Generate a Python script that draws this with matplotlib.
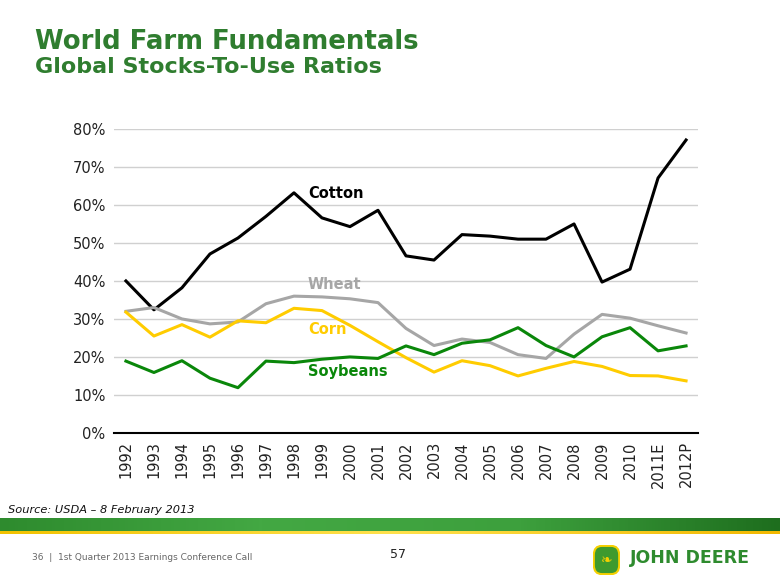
import numpy as np
import matplotlib
matplotlib.use("Agg")
import matplotlib.pyplot as plt
from matplotlib.patches import FancyBboxPatch

years = ["1992", "1993", "1994", "1995", "1996", "1997", "1998", "1999", "2000", "2001",
         "2002", "2003", "2004", "2005", "2006", "2007", "2008", "2009", "2010", "2011E", "2012P"]
cotton = [40.0, 32.4, 38.2, 47.1, 51.3, 57.0, 63.2, 56.6, 54.3, 58.6, 46.6, 45.5,
          52.2, 51.8, 51.0, 51.0, 55.0, 39.7, 43.1, 67.1, 77.1]
wheat = [32.0, 33.0, 30.0, 28.7, 29.2, 34.0, 36.0, 35.8, 35.3, 34.3, 27.5, 23.0,
         24.7, 23.8, 20.6, 19.6, 26.0, 31.2, 30.2, 28.2, 26.3]
corn = [31.8, 25.5, 28.5, 25.2, 29.5, 29.0, 32.8, 32.2, 28.3, 24.0, 19.8, 16.0,
        19.0, 17.7, 15.0, 17.0, 18.8, 17.5, 15.1, 15.0, 13.7]
soybeans = [18.9, 15.9, 19.0, 14.4, 11.9, 18.9, 18.5, 19.4, 20.0, 19.6, 22.9, 20.6,
            23.6, 24.5, 27.7, 23.0, 20.0, 25.3, 27.7, 21.6, 22.9]

green_title = "#2F7D2F"

fig = plt.figure(figsize=(7.8, 5.85), dpi=100)
ax = fig.add_axes([0.146, 0.26, 0.749, 0.5195])

x = np.arange(len(years))
ax.plot(x, cotton, color="black", lw=2.2)
ax.plot(x, wheat, color="#A6A6A6", lw=2.2)
ax.plot(x, corn, color="#FFCC00", lw=2.2)
ax.plot(x, soybeans, color="#0A870A", lw=2.2)

ax.set_ylim(0, 80)
ax.set_xlim(-0.43, 20.43)
ax.set_yticks(range(0, 81, 10))
ax.set_yticklabels([f"{v}%" for v in range(0, 81, 10)])
ax.set_xticks(x)
ax.set_xticklabels(years, rotation=90)
ax.tick_params(axis="both", length=0, labelsize=10.5, colors="#222222", pad=6)
ax.grid(axis="y", color="#D0D0D0", lw=1)
ax.set_axisbelow(True)
for s in ["top", "right", "left"]:
    ax.spines[s].set_visible(False)
ax.spines["bottom"].set_color("black")
ax.spines["bottom"].set_linewidth(1.5)

lab = dict(fontsize=10.5, fontweight="bold", ha="left", va="center")
ax.text(6.5, 63.0, "Cotton", color="black", **lab)
ax.text(6.5, 39.0, "Wheat", color="#A6A6A6", **lab)
ax.text(6.5, 27.2, "Corn", color="#FFCC00", **lab)
ax.text(6.5, 16.2, "Soybeans", color="#0A870A", **lab)

fig.text(35 / 780, 1 - 42 / 585, "World Farm Fundamentals", color=green_title,
         fontsize=18.7, fontweight="bold", ha="left", va="center")
fig.text(35 / 780, 1 - 67 / 585, "Global Stocks-To-Use Ratios", color=green_title,
         fontsize=16, fontweight="bold", ha="left", va="center")

fig.text(8 / 780, 1 - 510 / 585, "Source: USDA \u2013 8 February 2013", fontsize=8.2,
         style="italic", ha="left", va="center", color="#111111")

# green band with yellow underline
band = fig.add_axes([0, 1 - 531 / 585, 1, 13 / 585])
grad = np.linspace(0, 1, 256)[None, :]
cmap = matplotlib.colors.LinearSegmentedColormap.from_list(
    "g", ["#2E8B2E", "#43A843", "#3DA03D", "#1E6E1E"])
band.imshow(grad, aspect="auto", cmap=cmap, extent=[0, 1, 0, 1])
band.axis("off")
yl = fig.add_axes([0, 1 - 534 / 585, 1, 3 / 585])
ycmap = matplotlib.colors.LinearSegmentedColormap.from_list(
    "y", ["#F2C200", "#FFE14D", "#F2B800"])
yl.imshow(grad, aspect="auto", cmap=ycmap, extent=[0, 1, 0, 1])
yl.axis("off")

fig.text(32 / 780, 1 - 557 / 585, "36  |  1st Quarter 2013 Earnings Conference Call",
         fontsize=6.5, color="#666666", ha="left", va="center")
fig.text(398 / 780, 1 - 554 / 585, "57", fontsize=9, color="#222222",
         ha="center", va="center")

logo = fig.add_axes([593 / 780, 1 - 575 / 585, 27 / 780, 30 / 585])
logo.add_patch(FancyBboxPatch((0.08, 0.08), 0.84, 0.84,
                              boxstyle="round,pad=0.05,rounding_size=0.3",
                              fc="#3E9A2E", ec="#F5D000", lw=1.5))
logo.text(0.5, 0.5, "\u2767", color="#F5D000", fontsize=10, ha="center", va="center")
logo.set_xlim(0, 1)
logo.set_ylim(0, 1)
logo.axis("off")
fig.text(630 / 780, 1 - 558 / 585, "JOHN DEERE", fontsize=12.5, fontweight="bold",
         color="#2E8B2E", ha="left", va="center")

fig.savefig("out.png", dpi=100)
